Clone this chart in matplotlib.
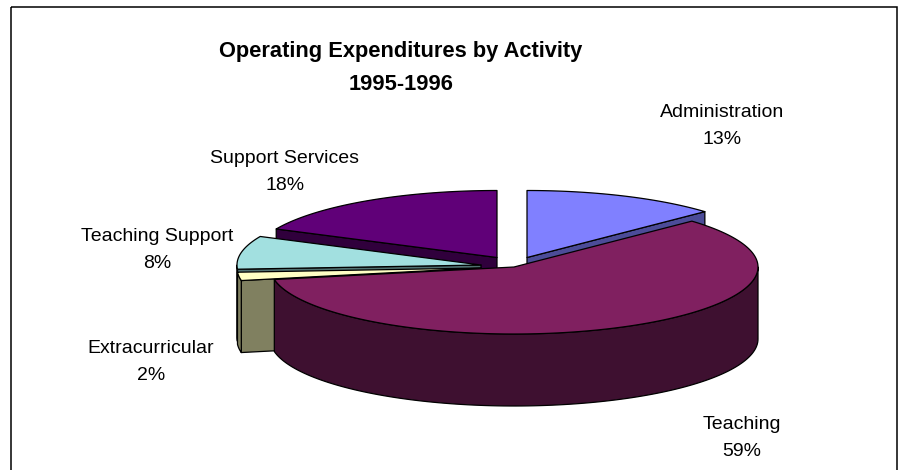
import numpy as np
import matplotlib
matplotlib.use("Agg")
import matplotlib.pyplot as plt
from matplotlib.patches import Polygon, Rectangle

plt.rcParams['font.family'] = ['Liberation Sans', 'DejaVu Sans']

title_lines = ["Operating Expenditures by Activity", "1995-1996"]
activities = ["Administration", "Teaching", "Extracurricular", "Teaching Support", "Support Services"]
shares = [13, 59, 2, 8, 18]

top_colors = ["#8080FF", "#802060", "#FFFFC4", "#A2E0E0", "#600078"]
side_colors = ["#4C4C98", "#3E1030", "#808060", "#507070", "#30003C"]
# Exploded slice centres, in figure pixels
centres = [(527, 257.5), (514, 267), (481, 268), (481, 265), (497, 257.5)]
label_xy = [(722, 126), (742, 438), (151, 362), (157, 250), (285, 172)]
# Back-to-front painting order of the slices
paint_order = [4, 0, 3, 2, 1]

RX, RY, DEPTH = 244, 67, 72

fig = plt.figure(figsize=(9.01, 4.7), dpi=100, facecolor="white")
ax = fig.add_axes([0, 0, 1, 1])
ax.set_xlim(0, 901)
ax.set_ylim(470, 0)
ax.axis("off")

ax.add_patch(Rectangle((11, 7), 886, 480, fill=False, ec="black", lw=1.1, clip_on=True))


def rim(c, t):
    # Point on the elliptical rim at clockwise angle t (degrees from twelve o'clock)
    r = np.radians(t)
    return np.column_stack([c[0] + RX * np.sin(r), c[1] - RY * np.cos(r)])


def draw(points, color):
    ax.add_patch(Polygon(points, closed=True, fc=color, ec="black", lw=0.9, joinstyle="round"))


bounds = np.cumsum([0] + shares) * 3.6
drop = np.array([0, DEPTH])

for i in paint_order:
    c = centres[i]
    start, end = bounds[i], bounds[i + 1]
    apex = np.array([c])

    # Cut face that turns towards the viewer
    for edge, facing in ((start, np.sin(np.radians(start)) < -1e-6),
                         (end, np.sin(np.radians(end)) > 1e-6)):
        if facing:
            p = rim(c, np.array([edge]))
            draw(np.vstack([apex, p, p + drop, apex + drop]), side_colors[i])

    # Outer wall of the front half of the pie
    lo, hi = max(start, 90), min(end, 270)
    if hi > lo:
        arc = rim(c, np.linspace(lo, hi, 120))
        draw(np.vstack([arc, arc[::-1] + drop]), side_colors[i])

    # Top face
    arc = rim(c, np.linspace(start, end, 200))
    draw(np.vstack([apex, arc]), top_colors[i])

for name, share, (x, y) in zip(activities, shares, label_xy):
    ax.text(x, y, f"{name}\n{share}%", ha="center", va="center", fontsize=14.0,
            linespacing=1.76, color="black")

ax.text(401, 68, "\n".join(title_lines), ha="center", va="center", fontsize=15.75,
        fontweight="bold", linespacing=1.8, color="black")

fig.savefig("out.png", dpi=100, facecolor="white")
